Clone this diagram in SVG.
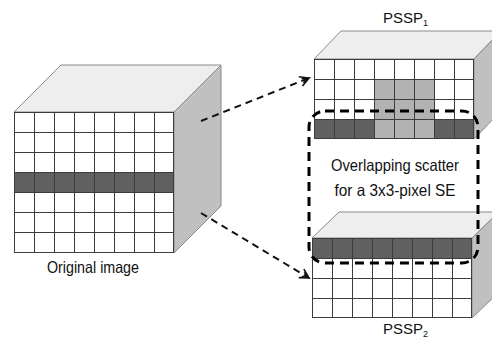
<svg xmlns="http://www.w3.org/2000/svg" width="492" height="339" viewBox="0 0 492 339">
  <defs>
    <style>
      .top { fill: #eeeeee; stroke: #8a8a8a; stroke-width: 1; }
      .side { fill: #c0c0c0; stroke: #8a8a8a; stroke-width: 1; }
      .cell { fill: #ffffff; }
      .dark { fill: #606060; }
      .mid { fill: #b2b2b2; }
      .grid { stroke: #3c3c3c; stroke-width: 1; fill: none; }
      .label { font-family: "Liberation Sans", Arial, sans-serif; font-size: 16.5px; fill: #111111; }
      .title { font-family: "Liberation Sans", Arial, sans-serif; font-size: 15px; fill: #111111; }
      .sub { font-size: 9px; }
      .arrow { stroke: #111111; stroke-width: 2; stroke-dasharray: 7 5; fill: none; }
      .scatter { stroke: #000000; stroke-width: 3; stroke-dasharray: 9 6; fill: none; }
    </style>
    <marker id="open-head" markerWidth="12" markerHeight="12" refX="10" refY="6" orient="auto" markerUnits="userSpaceOnUse">
      <path d="M1,1 L10,6 L1,11 M3,3.5 L10,6 L3,8.5" fill="none" stroke="#111111" stroke-width="1.6"/>
    </marker>
  </defs>

  <rect width="492" height="339" fill="#ffffff"/>

  <!-- Original image: 8x7 pixel cube with one dark row -->
  <g id="original">
    <polygon class="top" points="14,112 61,65 221,65 174,112"/>
    <polygon class="side" points="174,112 221,65 221,206 174,253"/>
    <rect class="cell" x="14" y="112" width="160" height="141"/>
    <rect class="dark" x="14" y="172.5" width="160" height="20"/>
    <path class="grid" d="M14,112.5H174 M14,132.5H174 M14,152.5H174 M14,172.5H174 M14,192.5H174 M14,212.5H174 M14,232.5H174 M14,252.5H174
                          M14.5,112V253 M34.5,112V253 M54.5,112V253 M74.5,112V253 M94.5,112V253 M114.5,112V253 M134.5,112V253 M154.5,112V253 M173.5,112V253"/>
    <text class="label" x="93" y="273" text-anchor="middle" textLength="92" lengthAdjust="spacingAndGlyphs">Original image</text>
  </g>

  <!-- PSSP 1: 8x4 slab, 3x3 light block meeting the dark bottom row -->
  <g id="pssp1">
    <polygon class="top" points="314,59 341,31 501,31 474,59"/>
    <polygon class="side" points="474,59 501,31 501,111 474,139"/>
    <rect class="cell" x="314" y="59" width="160" height="80"/>
    <rect class="dark" x="314" y="119" width="160" height="20"/>
    <rect class="mid" x="374" y="79" width="60" height="60"/>
    <path class="grid" d="M314,59.5H474 M314,79.5H474 M314,99.5H474 M314,119.5H474 M314,138.5H474
                          M314.5,59V139 M334.5,59V139 M354.5,59V139 M374.5,59V139 M394.5,59V139 M414.5,59V139 M434.5,59V139 M454.5,59V139 M473.5,59V139"/>
    <text class="title" x="383" y="23">PSSP<tspan class="sub" dy="3">1</tspan></text>
  </g>

  <!-- PSSP 2: 8x4 slab, dark top row -->
  <g id="pssp2">
    <polygon class="top" points="312,238 339,212 499,212 472,238"/>
    <polygon class="side" points="472,238 499,212 499,292 472,318"/>
    <rect class="cell" x="312" y="238" width="160" height="80"/>
    <rect class="dark" x="312" y="238" width="160" height="20"/>
    <path class="grid" d="M312,238.5H472 M312,258.5H472 M312,278.5H472 M312,298.5H472 M312,317.5H472
                          M312.5,238V318 M332.5,238V318 M352.5,238V318 M372.5,238V318 M392.5,238V318 M412.5,238V318 M432.5,238V318 M452.5,238V318 M471.5,238V318"/>
    <text class="title" x="383" y="334">PSSP<tspan class="sub" dy="2.5">2</tspan></text>
  </g>

  <!-- Overlap region between the two slabs -->
  <g id="scatter">
    <rect class="scatter" x="309" y="111" width="169" height="152" rx="16" ry="16"/>
    <text class="label" x="395" y="171" text-anchor="middle" textLength="128" lengthAdjust="spacingAndGlyphs">Overlapping scatter</text>
    <text class="label" x="395" y="196" text-anchor="middle" textLength="121" lengthAdjust="spacingAndGlyphs">for a 3x3-pixel SE</text>
  </g>

  <!-- Connectors -->
  <g id="connectors">
    <line class="arrow" x1="201" y1="121" x2="309" y2="78" marker-end="url(#open-head)"/>
    <line class="arrow" x1="201" y1="213" x2="309" y2="278" marker-end="url(#open-head)"/>
  </g>
</svg>
